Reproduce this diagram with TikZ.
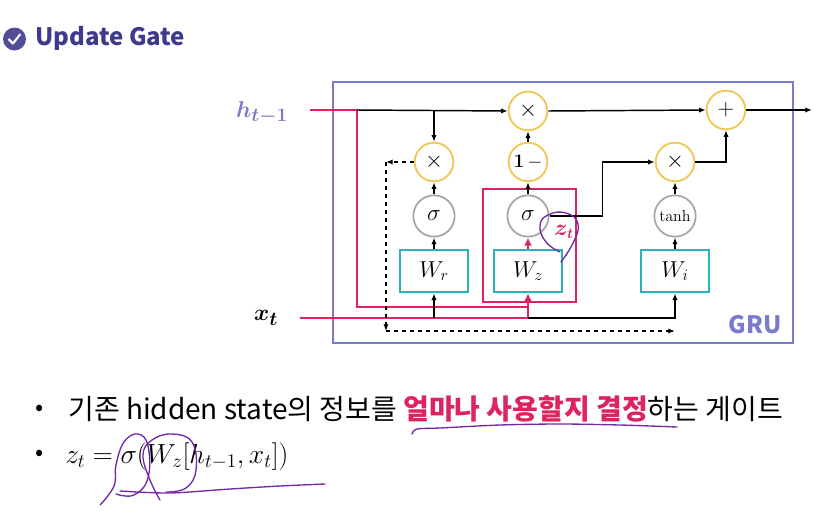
\documentclass[tikz,border=0pt]{standalone}
\usepackage{amsmath}
\usepackage{bm}
\usepackage[no-math]{fontspec}
\setmainfont{Noto Sans CJK KR}
\usetikzlibrary{arrows.meta}
\definecolor{grublue}{RGB}{123,123,203}
\definecolor{gatered}{RGB}{222,35,95}
\definecolor{gatecyan}{RGB}{40,180,190}
\definecolor{gateyellow}{RGB}{240,200,90}
\definecolor{gategray}{RGB}{165,165,165}
\definecolor{titlepurple}{RGB}{62,58,140}
\definecolor{penpurple}{RGB}{115,40,165}

\begin{document}
\begin{tikzpicture}[
    x=0.75pt, y=-0.75pt,
    op/.style={circle, draw=gateyellow, line width=1.4pt, fill=white, minimum size=29pt, inner sep=0pt, font=\fontsize{16}{18}\selectfont},
    act/.style={circle, draw=gategray, line width=1.3pt, fill=white, minimum size=31pt, inner sep=0pt, font=\fontsize{16}{18}\selectfont},
    wbox/.style={draw=gatecyan, line width=2pt, fill=white, minimum width=51pt, minimum height=31.5pt, inner sep=0pt, font=\fontsize{17}{20}\selectfont},
    flow/.style={-{Latex[length=5pt,width=4pt]}, line width=1.1pt},
    redline/.style={gatered, line width=1.9pt},
    pen/.style={penpurple, line width=1pt, line cap=round}
  ]
  \useasboundingbox (0,0) rectangle (838,521);

  % title
  \fill[titlepurple!90!white] (14.5,39) circle (11.5);
  \draw[white, line width=1.6pt, line cap=round, line join=round] (9,39.5) -- (13,43.5) -- (20,34.5);
  \node[anchor=base west, inner sep=0pt, text=titlepurple, font=\fontsize{18}{20}\selectfont\bfseries] (title) at (35,45) {Update Gate};

  % frames
  \draw[grublue, line width=2pt] (333,82) rectangle (793,343);
  \node[text=grublue, font=\fontsize{18}{20}\selectfont\bfseries] (grulab) at (755,325) {GRU};
  \draw[redline] (483,189) rectangle (576,302);

  % inputs
  \node[text=grublue, font=\fontsize{19}{21}\selectfont] (hlab) at (262,113) {$\bm{h_{t-1}}$};
  \node[font=\fontsize{19}{21}\selectfont] (xlab) at (266,318) {$\bm{x_t}$};
  \coordinate (hin) at (310,110);
  \coordinate (hsplit) at (357,110);
  \coordinate (xin) at (300,318);

  % gates
  \node[op] (mulh) at (528,111) {$\times$};
  \node[op] (plus) at (726,110) {$+$};
  \node[op] (mulr) at (434,162) {$\times$};
  \node[op, font=\fontsize{14}{16}\selectfont] (onem) at (528,162) {$\mathbf{1}\,-$};
  \node[op] (muli) at (675,162) {$\times$};
  \node[act] (sigr) at (434,216) {$\sigma$};
  \node[act] (sigz) at (528,216) {$\sigma$};
  \node[act, font=\fontsize{12}{14}\selectfont] (tanhi) at (675,216) {$\mathrm{tanh}$};
  \node[wbox] (Wr) at (434,271) {$W_r$};
  \node[wbox] (Wz) at (528,271) {$W_z$};
  \node[wbox] (Wi) at (675,271) {$W_i$};
  \node[text=gatered, font=\fontsize{16}{18}\selectfont] (zlab) at (564,232) {$\bm{z_t}$};
  \coordinate (hout) at (812,110);

  % red paths into the update gate
  \draw[redline] (hin) -- (hsplit) -- (357,307) -- (Wz.south |- 0,307);
  \draw[redline] (xin) -- (Wz.south |- xin);
  \draw[redline, -{Latex[length=6pt,width=6pt]}] (Wz.south |- xin) -- (Wz.south);
  \draw[redline, -{Latex[length=6pt,width=6pt]}] (Wz.north) -- (sigz.south);

  % black paths
  \draw[flow] (hsplit) -- (mulh.west);
  \draw[flow] (mulr.north |- hsplit) -- (mulr.north);
  \draw[flow] (Wr.south |- xin) -- (Wr.south);
  \draw[flow] (Wz.south |- xin) -- (Wi.south |- xin) -- (Wi.south);
  \draw[flow] (Wr) -- (sigr);
  \draw[flow] (sigr) -- (mulr);
  \draw[flow] (sigz) -- (onem);
  \draw[flow] (onem) -- (mulh);
  \draw[flow] (Wi) -- (tanhi);
  \draw[flow] (tanhi) -- (muli);
  \draw[flow] (sigz.east) -- ++(53,0) |- (muli.west);
  \draw[flow] (mulh.east) -- (plus.west);
  \draw[flow] (muli.east) -| (plus.south);
  \draw[flow] (plus.east) -- (hout);

  % reset feedback
  \coordinate (rtop) at (386,162);
  \coordinate (rbot) at (386,331);
  \draw[flow, dashed] (mulr.west) -- (rtop);
  \draw[flow, dashed] (rtop) -- (rbot);
  \draw[flow, dashed] (rbot) -- (Wi.south |- rbot);

  % text
  \node[font=\fontsize{18}{20}\selectfont] (bulleta) at (40,410) {•};
  \node[anchor=base west, inner sep=0pt, font=\fontsize{21}{24}\selectfont] (desc) at (68,419)
    {기존 hidden state의 정보를 \textcolor{gatered}{\bfseries 얼마나 사용할지 결정}하는 게이트};
  \node[font=\fontsize{18}{20}\selectfont] (bulletb) at (40,455) {•};
  \node[anchor=base west, inner sep=0pt, font=\fontsize{22.5}{26}\selectfont] (eq) at (65,463)
    {$z_t = \sigma(W_z[h_{t-1}, x_t])$};

  % pen marks
  \draw[pen] plot[smooth, tension=0.8] coordinates {(561,262) (573,243) (578,224) (566,213) (548,215) (540,226) (546,242) (560,252)};
  \draw[pen] plot[smooth] coordinates {(412,434) (417,429) (440,428) (500,425) (560,424) (620,425) (677,427)};
  \draw[pen] plot[smooth, tension=0.7] coordinates {(100,505) (114,486) (116,465) (124,442) (138,434) (148,446) (148,478) (134,495) (116,494)};
  \draw[pen] plot[smooth, tension=0.7] coordinates {(160,500) (150,480) (143,455) (152,440) (172,434) (192,442) (196,470) (186,488) (166,492)};
  \draw[pen] plot[smooth] coordinates {(120,491) (170,493) (230,489) (280,486) (325,484)};
\end{tikzpicture}
\end{document}
